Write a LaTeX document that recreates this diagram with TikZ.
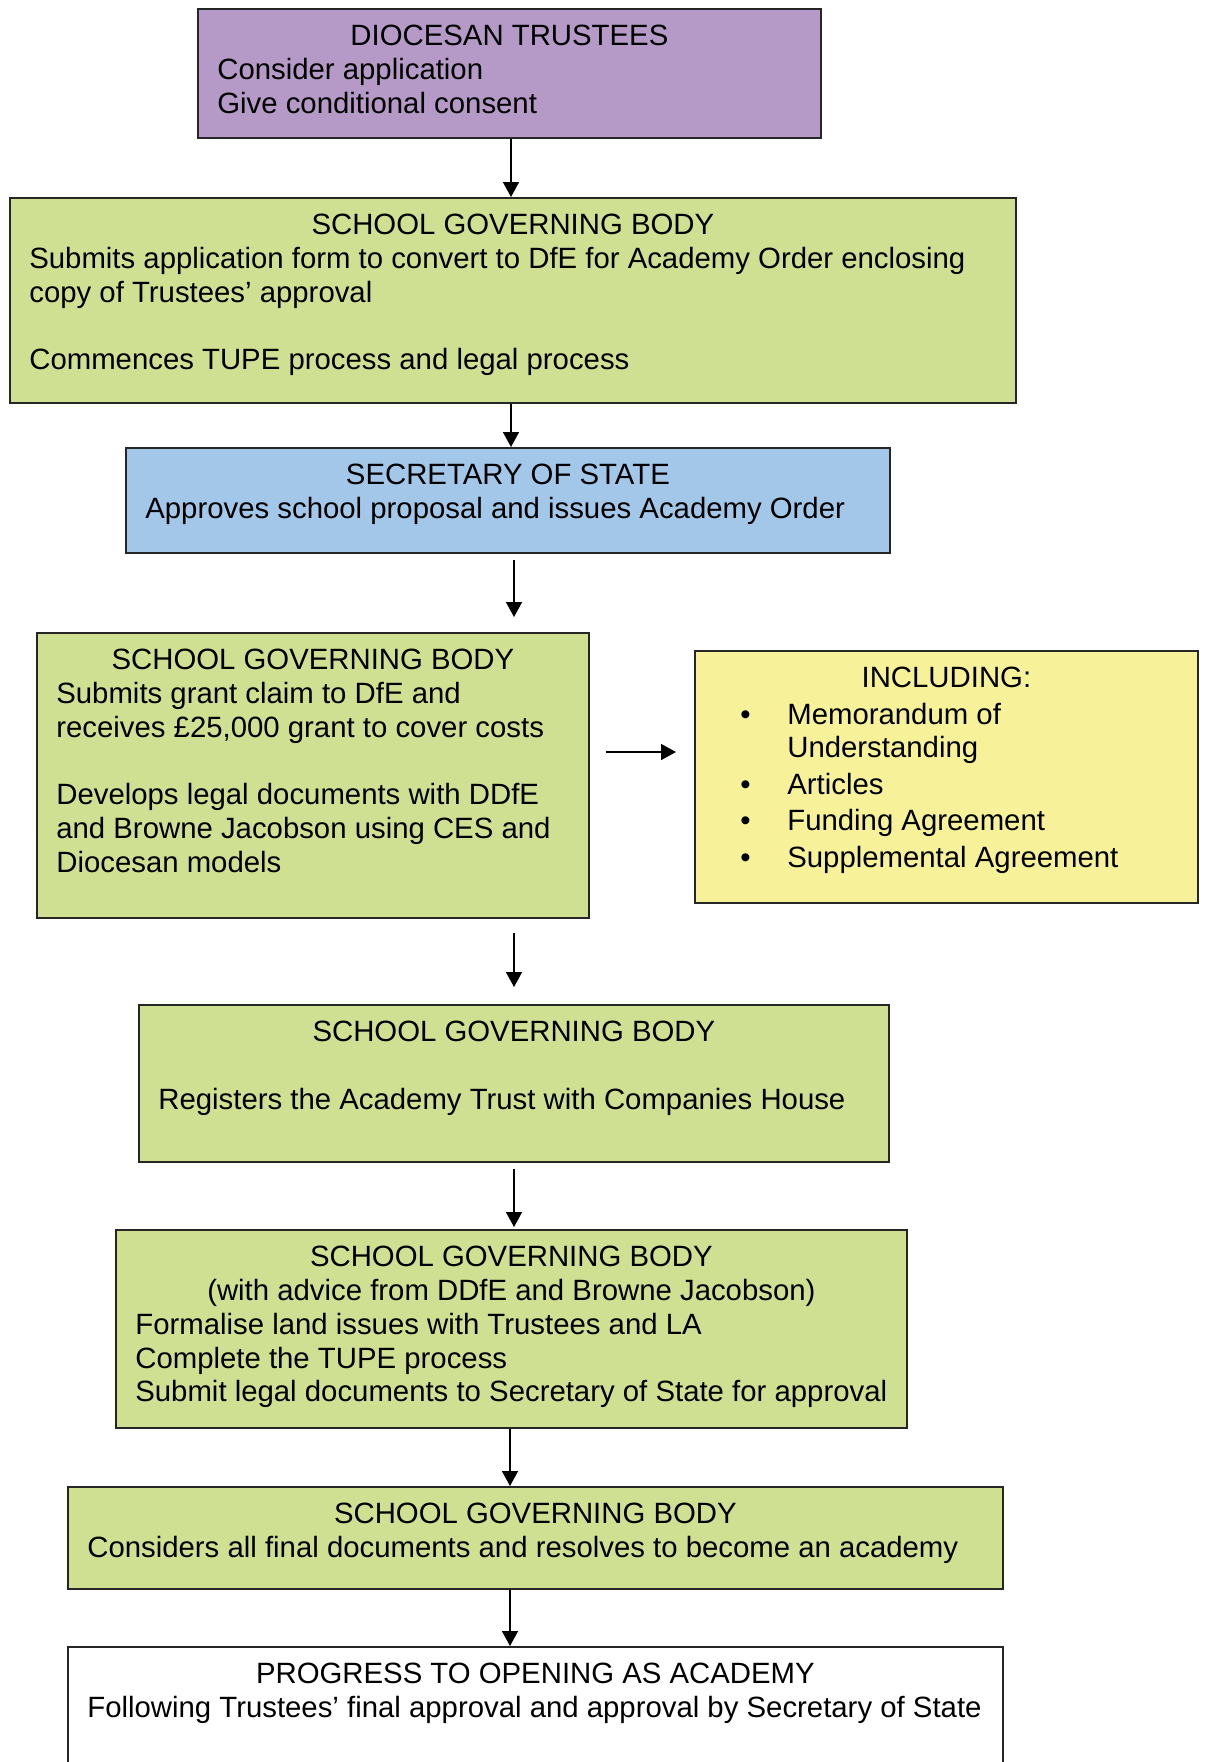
\documentclass[tikz,border=0pt]{standalone}
\usepackage{fontspec}
\setmainfont{Liberation Sans}
\usetikzlibrary{arrows.meta}
\definecolor{trustpurple}{RGB}{181,153,199}
\definecolor{sgbgreen}{RGB}{207,224,147}
\definecolor{sosblue}{RGB}{163,199,233}
\definecolor{inclyellow}{RGB}{247,242,154}
\tikzset{
  every node/.style={font=\fontsize{16.7}{19.2}\selectfont},
  box/.style={draw=black!85,line width=1.1pt,anchor=north west,inner sep=0pt},
  head/.style={anchor=north,inner sep=0pt,align=center},
  body/.style={anchor=north west,inner sep=0pt,align=left},
  arr/.style={line width=0.9pt,-{Triangle[length=3mm,width=3.2mm]}},
}
\begin{document}
\begin{tikzpicture}[x=0.02cm,y=-0.02cm]
\path[use as bounding box] (0,0) rectangle (1205,1762);
\clip (0,0) rectangle (1205,1762);
% boxes
\node[box,fill=trustpurple,minimum width=12.46cm,minimum height=2.58cm] (trustees) at (197,8) {};
\node[box,fill=sgbgreen,minimum width=20.12cm,minimum height=4.10cm] (sgbapply) at (9,197) {};
\node[box,fill=sosblue,minimum width=15.28cm,minimum height=2.10cm] (sos) at (125,447) {};
\node[box,fill=sgbgreen,minimum width=11.04cm,minimum height=5.70cm] (sgbgrant) at (36,632) {};
\node[box,fill=inclyellow,minimum width=10.06cm,minimum height=5.04cm] (incl) at (694,650) {};
\node[box,fill=sgbgreen,minimum width=15.00cm,minimum height=3.14cm] (sgbreg) at (138,1004) {};
\node[box,fill=sgbgreen,minimum width=15.82cm,minimum height=3.96cm] (sgbland) at (115,1229) {};
\node[box,fill=sgbgreen,minimum width=18.70cm,minimum height=2.04cm] (sgbfinal) at (67,1486) {};
\node[box,fill=white,minimum width=18.70cm,minimum height=3.20cm] (opening) at (67,1646) {};
% texts
\node[head] (trusteesh) at ([yshift=-0.34cm]trustees.north) {DIOCESAN TRUSTEES};
\node[body] (trusteesb) at ([xshift=0.4cm,yshift=-1.0cm]trustees.north west)
  {Consider application\\Give conditional consent};
\node[head] (sgbapplyh) at ([yshift=-0.34cm]sgbapply.north) {SCHOOL GOVERNING BODY};
\node[body] (sgbapplyb) at ([xshift=0.4cm,yshift=-1.0cm]sgbapply.north west)
  {Submits application form to convert to DfE for Academy Order enclosing\\
   copy of Trustees’ approval\\[19.2pt]
   Commences TUPE process and legal process};
\node[head] (sosh) at ([yshift=-0.34cm]sos.north) {SECRETARY OF STATE};
\node[body] (sosb) at ([xshift=0.4cm,yshift=-1.0cm]sos.north west)
  {Approves school proposal and issues Academy Order};
\node[head] (sgbgranth) at ([yshift=-0.34cm]sgbgrant.north) {SCHOOL GOVERNING BODY};
\node[body] (sgbgrantb) at ([xshift=0.4cm,yshift=-1.0cm]sgbgrant.north west)
  {Submits grant claim to DfE and\\
   receives £25,000 grant to cover costs\\[19.2pt]
   Develops legal documents with DDfE\\
   and Browne Jacobson using CES and\\
   Diocesan models};
\node[head] (inclh) at ([yshift=-0.34cm]incl.north) {INCLUDING:};
\node[body] (inclb) at ([xshift=0.92cm,yshift=-1.05cm]incl.north west)
  {\makebox[0.94cm][l]{\textbullet}Memorandum of\\
   \hspace*{0.94cm}Understanding\\[1.6pt]
   \makebox[0.94cm][l]{\textbullet}Articles\\[1.6pt]
   \makebox[0.94cm][l]{\textbullet}Funding Agreement\\[1.6pt]
   \makebox[0.94cm][l]{\textbullet}Supplemental Agreement};
\node[head] (sgbregh) at ([yshift=-0.34cm]sgbreg.north) {SCHOOL GOVERNING BODY};
\node[body] (sgbregb) at ([xshift=0.4cm,yshift=-1.674cm]sgbreg.north west)
  {Registers the Academy Trust with Companies House};
\node[head] (sgblandh) at ([yshift=-0.34cm]sgbland.north)
  {SCHOOL GOVERNING BODY\\(with advice from DDfE and Browne Jacobson)};
\node[body] (sgblandb) at ([xshift=0.4cm,yshift=-1.674cm]sgbland.north west)
  {Formalise land issues with Trustees and LA\\
   Complete the TUPE process\\
   Submit legal documents to Secretary of State for approval};
\node[head] (sgbfinalh) at ([yshift=-0.34cm]sgbfinal.north) {SCHOOL GOVERNING BODY};
\node[body] (sgbfinalb) at ([xshift=0.4cm,yshift=-1.0cm]sgbfinal.north west)
  {Considers all final documents and resolves to become an academy};
\node[head] (openingh) at ([yshift=-0.34cm]opening.north) {PROGRESS TO OPENING AS ACADEMY};
\node[body] (openingb) at ([xshift=0.4cm,yshift=-1.0cm]opening.north west)
  {Following Trustees’ final approval and approval by Secretary of State};
% arrows
\coordinate (spa) at (511,0);
\coordinate (spb) at (514,0);
\coordinate (spc) at (510,0);
\coordinate (hz) at (0,752);
\draw[arr] (trustees.south -| spa) -- (sgbapply.north -| spa);
\draw[arr] (sgbapply.south -| spa) -- (sos.north -| spa);
\draw[arr,shorten <=0.12cm,shorten >=0.30cm] (sos.south -| spb) -- (sgbgrant.north -| spb);
\draw[arr,shorten <=0.32cm,shorten >=0.36cm] (sgbgrant.east |- hz) -- (incl.west |- hz);
\draw[arr,shorten <=0.28cm,shorten >=0.34cm] (sgbgrant.south -| spb) -- (sgbreg.north -| spb);
\draw[arr,shorten <=0.12cm,shorten >=0.04cm] (sgbreg.south -| spb) -- (sgbland.north -| spb);
\draw[arr] (sgbland.south -| spc) -- (sgbfinal.north -| spc);
\draw[arr] (sgbfinal.south -| spc) -- (opening.north -| spc);
\end{tikzpicture}
\end{document}
